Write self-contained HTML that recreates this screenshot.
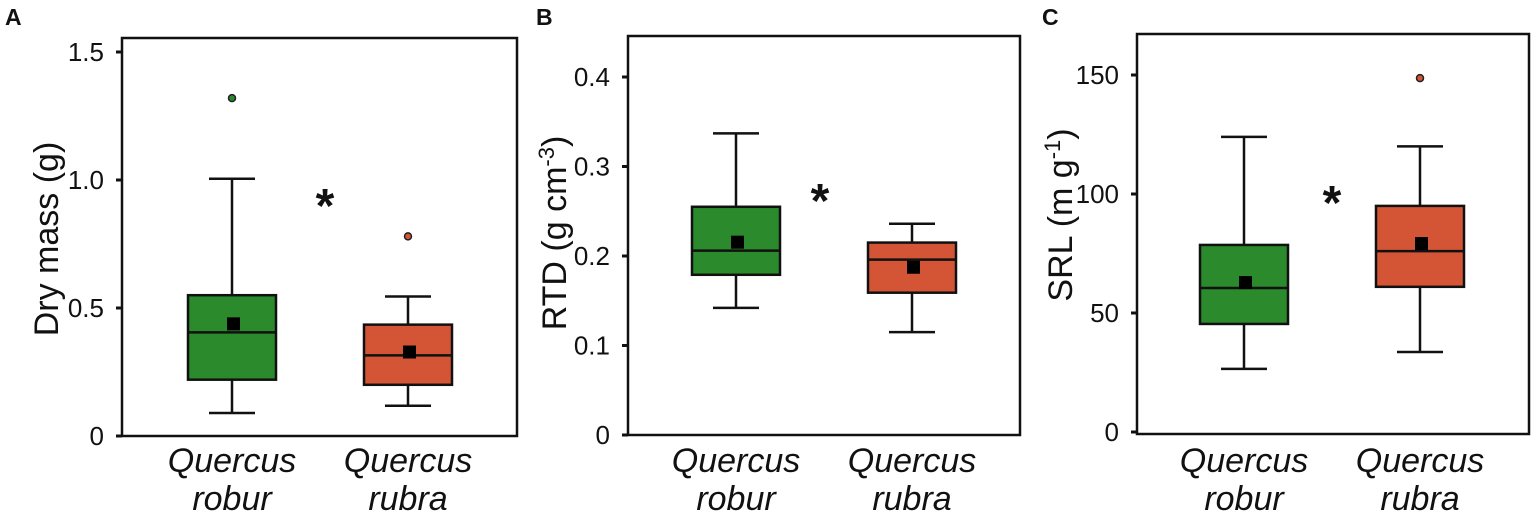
<!DOCTYPE html>
<html><head><meta charset="utf-8"><style>
body{margin:0;background:#fff;width:1535px;height:518px;overflow:hidden}
svg{display:block}
text{font-family:"Liberation Sans",Arial,sans-serif;fill:#111}
</style></head><body>
<svg id="chart" width="1535" height="518" viewBox="0 0 1535 518" xmlns="http://www.w3.org/2000/svg"></svg>
<script>
const categories = ["robur","rubra"];
const colors = ["#2b8a2b","#d45536"];
// panel A: Dry mass
const aWhiskerHigh=[1.005,0.545], aQ3=[0.55,0.435], aMedian=[0.405,0.315], aQ1=[0.22,0.20], aWhiskerLow=[0.09,0.118], aMean=[0.44,0.33], aOutliers=[[1.32],[0.78]];
const aTicks=[0,0.5,1.0,1.5], aTickLabels=["0","0.5","1.0","1.5"];
// panel B: RTD
const bWhiskerHigh=[0.337,0.236], bQ3=[0.255,0.215], bMedian=[0.206,0.196], bQ1=[0.179,0.159], bWhiskerLow=[0.142,0.115], bMean=[0.216,0.188], bOutliers=[[],[]];
const bTicks=[0,0.1,0.2,0.3,0.4], bTickLabels=["0","0.1","0.2","0.3","0.4"];
// panel C: SRL
const cWhiskerHigh=[124,120], cQ3=[78.6,95], cMedian=[60.5,76], cQ1=[45.4,61], cWhiskerLow=[26.5,33.6], cMean=[63,79.4], cOutliers=[[],[148.7]];
const cTicks=[0,50,100,150], cTickLabels=["0","50","100","150"];

const svg=document.getElementById('chart');
const NS="http://www.w3.org/2000/svg";
function el(tag,attrs,parent){const e=document.createElementNS(NS,tag);for(const k in attrs)e.setAttribute(k,attrs[k]);(parent||svg).appendChild(e);return e;}

function panel(o){
  const g=el('g',{});
  
  
  const y=v=>o.bottom-(v-o.min)/(o.max-o.min)*(o.bottom-o.topTick);
  const lt=el('text',{x:o.letterX,y:25,'font-size':23,'font-weight':'bold'},g);lt.textContent=o.letter;
  
  
  const fr=el('rect',{x:o.left,y:o.top,width:o.right-o.left,height:o.frameBottom-o.top,fill:'none',stroke:'#111','stroke-width':2.5},g);
  
  
  o.ticks.forEach((t,i)=>{
    const yy=y(t);
    const tk=el('line',{x1:o.left-6,x2:o.left,y1:yy,y2:yy,stroke:'#111','stroke-width':3},g);
    
    
    const tl=el('text',{x:o.left-18,y:yy+9,'font-size':26,'text-anchor':'end'},g);tl.textContent=o.tickLabels[i];
    
    
  });
  const yt=el('text',{transform:`translate(${o.titleX},${o.titleY}) rotate(-90)`,'font-size':34,'text-anchor':'middle'},g);
  yt.innerHTML=o.title;
  
  
  categories.forEach((c,i)=>{
    const cx=o.centers[i], hw=44, cw=23;
    const bg=el('g',{},g);
    
    
    el('line',{x1:cx,x2:cx,y1:y(o.wh[i]),y2:y(o.wl[i]),stroke:'#111','stroke-width':2.5},bg);
    el('line',{x1:cx-cw,x2:cx+cw,y1:y(o.wh[i]),y2:y(o.wh[i]),stroke:'#111','stroke-width':2.5},bg);
    el('line',{x1:cx-cw,x2:cx+cw,y1:y(o.wl[i]),y2:y(o.wl[i]),stroke:'#111','stroke-width':2.5},bg);
    el('rect',{x:cx-hw,y:y(o.q3[i]),width:2*hw,height:y(o.q1[i])-y(o.q3[i]),fill:colors[i],stroke:'#111','stroke-width':2.5},bg);
    el('line',{x1:cx-hw,x2:cx+hw,y1:y(o.med[i]),y2:y(o.med[i]),stroke:'#111','stroke-width':2.5},bg);
    const m=el('rect',{x:cx-5,y:y(o.mean[i])-6,width:13,height:13,fill:'#000'},bg);
    
    
    o.out[i].forEach(v=>{
      const p=el('circle',{cx:cx,cy:y(v),r:3.5,fill:colors[i],stroke:'#222','stroke-width':1.5},bg);
      
      
    });
    const xl=el('text',{x:cx,y:472,'font-size':34,'font-style':'italic','text-anchor':'middle'},g);
    xl.innerHTML=`<tspan x="${cx}">Quercus</tspan><tspan x="${cx}" dy="38">${c}</tspan>`;
    
    
  });
  const st=el('text',{x:o.starX,y:o.starY+24,'font-size':48,'text-anchor':'middle','font-weight':'bold'},g);st.textContent='*';
  
  
}
panel({letter:'A',letterX:5,left:122,right:517,top:38,frameBottom:436,bottom:436,topTick:52,min:0,max:1.5,ticks:aTicks,tickLabels:aTickLabels,
  title:'Dry mass (g)',titleX:58,titleY:239,centers:[232,408],wh:aWhiskerHigh,q3:aQ3,med:aMedian,q1:aQ1,wl:aWhiskerLow,mean:aMean,out:aOutliers,starX:325,starY:198});
panel({letter:'B',letterX:536,left:628,right:1020,top:36,frameBottom:435,bottom:435,topTick:77,min:0,max:0.4,ticks:bTicks,tickLabels:bTickLabels,
  title:'RTD (g cm<tspan dy="-12" font-size="22">-3</tspan><tspan dy="12">)</tspan>',titleX:566,titleY:233,centers:[736,912],wh:bWhiskerHigh,q3:bQ3,med:bMedian,q1:bQ1,wl:bWhiskerLow,mean:bMean,out:bOutliers,starX:820,starY:193});
panel({letter:'C',letterX:1042,left:1137,right:1529,top:34,frameBottom:434,bottom:432,topTick:75,min:0,max:150,ticks:cTicks,tickLabels:cTickLabels,
  title:'SRL (m g<tspan dy="-12" font-size="22">-1</tspan><tspan dy="12">)</tspan>',titleX:1072,titleY:215,centers:[1244,1420],wh:cWhiskerHigh,q3:cQ3,med:cMedian,q1:cQ1,wl:cWhiskerLow,mean:cMean,out:cOutliers,starX:1332,starY:195});
</script>
</body></html>
